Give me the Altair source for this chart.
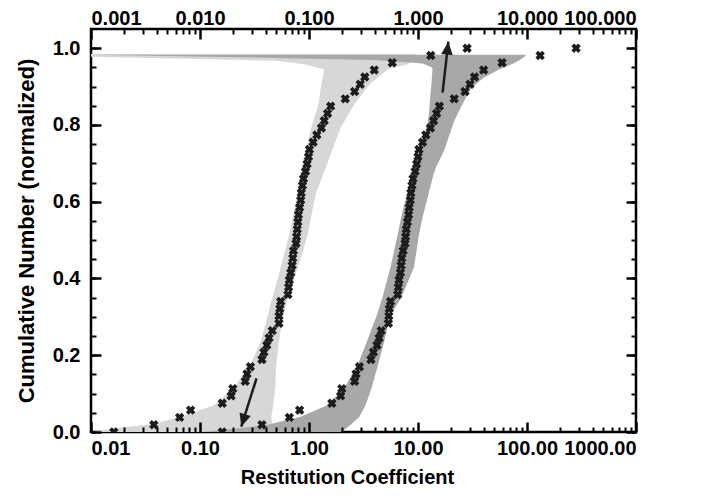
import altair as alt
import pandas as pd

# ---------------- data ----------------
cdf_y = [0.000, 0.019, 0.038, 0.057, 0.075, 0.094, 0.113, 0.132, 0.151, 0.170,
         0.189, 0.208, 0.226, 0.245, 0.264, 0.283, 0.302, 0.321, 0.340, 0.358,
         0.377, 0.396, 0.415, 0.434, 0.453, 0.472, 0.491, 0.509, 0.528, 0.547,
         0.566, 0.585, 0.604, 0.623, 0.642, 0.660, 0.679, 0.698, 0.717, 0.736,
         0.755, 0.774, 0.792, 0.811, 0.830, 0.849, 0.868, 0.887, 0.906, 0.925,
         0.943, 0.962, 0.981, 1.000]

left_x = [0.0162, 0.0377, 0.065, 0.082, 0.16, 0.193, 0.20, 0.26, 0.27, 0.29,
          0.37, 0.386, 0.41, 0.43, 0.46, 0.53, 0.53, 0.54, 0.55, 0.64,
          0.65, 0.66, 0.68, 0.70, 0.71, 0.72, 0.76, 0.77, 0.78, 0.79,
          0.80, 0.82, 0.84, 0.85, 0.87, 0.89, 0.93, 0.96, 0.99, 1.01,
          1.09, 1.18, 1.30, 1.38, 1.48, 1.58, 2.15, 2.62, 2.95, 3.25,
          3.97, 5.8, 13.1, 28.2]

right_x = [0.16, 0.37, 0.66, 0.82, 1.62, 1.95, 2.0, 2.62, 2.7, 2.9,
           3.7, 3.9, 4.2, 4.4, 4.6, 5.35, 5.4, 5.45, 5.6, 6.5,
           6.6, 6.7, 6.9, 7.0, 7.1, 7.3, 7.6, 7.7, 7.8, 8.0,
           8.2, 8.3, 8.5, 8.6, 8.8, 9.0, 9.4, 9.7, 10.0, 10.2,
           11.0, 11.8, 13.0, 13.9, 14.8, 15.7, 21.5, 27.0, 30.0, 33.0,
           40.0, 59.0, 132.0, 282.0]

light_y = [0.000, 0.010, 0.020, 0.040, 0.070, 0.115, 0.175, 0.236, 0.305, 0.340,
           0.384, 0.470, 0.514, 0.619, 0.688, 0.706, 0.793, 0.854, 0.906, 0.945,
           0.958, 0.967, 0.972, 0.978, 0.985]
light_lo = [0.0100, 0.0165, 0.035, 0.068, 0.134, 0.205, 0.29, 0.36, 0.42, 0.45,
            0.50, 0.60, 0.66, 0.78, 0.85, 0.88, 1.05, 1.22, 1.30, 1.38,
            0.9, 0.5, 0.1, 0.0100, 0.0100]
light_hi = [0.50, 0.48, 0.46, 0.45, 0.47, 0.49, 0.50, 0.53, 0.58, 0.63,
            0.70, 0.88, 0.97, 1.15, 1.42, 1.50, 1.95, 2.6, 3.6, 5.3,
            8.0, 9.0, 9.5, 9.5, 9.5]

dark_y = [0.000, 0.008, 0.018, 0.040, 0.070, 0.114, 0.175, 0.236, 0.305, 0.349,
          0.430, 0.514, 0.558, 0.662, 0.688, 0.732, 0.758, 0.810, 0.828, 0.880,
          0.897, 0.923, 0.945, 0.950, 0.960, 0.969, 0.974, 0.978, 0.983]
dark_lo = [0.10, 0.20, 0.41, 0.84, 1.47, 2.1, 2.8, 3.4, 4.2, 4.7,
           5.6, 6.5, 7.0, 8.6, 9.4, 10.6, 11.2, 12.3, 12.6, 13.0,
           13.2, 13.4, 13.6, 13.5, 11.0, 4.0, 0.6, 0.12, 0.0100]
dark_hi = [1.94, 2.15, 2.4, 2.9, 3.3, 3.75, 4.3, 4.9, 5.6, 7.0,
           9.2, 10.2, 11.0, 13.6, 14.5, 17.3, 18.6, 21.5, 23.0, 28.5,
           31.0, 40.0, 56.0, 62.0, 75.0, 86.0, 90.0, 95.0, 98.0]

arrow_x_start = [0.33, 16.8]
arrow_y_start = [0.14, 0.884]
arrow_x_end = [0.239, 19.0]
arrow_y_end = [0.014, 1.017]
arrow_angle = [197.6, 6.4]

x_major = [0.01, 0.1, 1, 10, 100, 1000]
x_bottom_labels = ["0.01", "0.10", "1.00", "10.00", "100.00", "1000.00"]
x_top_labels = ["0.001", "0.010", "0.100", "1.000", "10.000", "100.000"]
x_minor = [m * d for d in [0.01, 0.1, 1, 10, 100] for m in range(2, 10)]
y_major = [0.0, 0.2, 0.4, 0.6, 0.8, 1.0]
y_minor = [round(0.05 * i, 2) for i in range(21)]

# ---------------- tables ----------------
pts_left = pd.DataFrame({"x": left_x, "y": cdf_y})
pts_right = pd.DataFrame({"x": right_x, "y": cdf_y})
light_df = pd.DataFrame({"y": light_y, "lo": light_lo, "hi": light_hi})
dark_df = pd.DataFrame({"y": dark_y, "lo": dark_lo, "hi": dark_hi})
arrows = pd.DataFrame({"x": arrow_x_start, "y": arrow_y_start,
                       "x2": arrow_x_end, "y2": arrow_y_end, "ang": arrow_angle})

FONT = "Liberation Sans"
xs = alt.Scale(type="log", domain=[0.01, 1000], nice=False)
ys = alt.Scale(domain=[0, 1.05], nice=False, zero=False)

common = dict(labelFont=FONT, labelFontSize=20, labelFontWeight="bold", labelColor="black",
              tickColor="black", titleFont=FONT, titleFontSize=20, titleFontWeight="bold",
              titleColor="black", grid=False, domain=False, zindex=2)


def lab_expr(labels):
    arr = "[" + ",".join("'%s'" % s for s in labels) + "]"
    return arr + "[round(log(datum.value)/LN10)+2]"


ax_bottom = alt.Axis(orient="bottom", values=x_major, labelExpr=lab_expr(x_bottom_labels),
                     tickSize=10, tickWidth=2.5, offset=-10, labelPadding=6,
                     title="Restitution Coefficient", titlePadding=9, titleX=256,
                     **common)
ax_bottom_minor = alt.Axis(orient="bottom", values=x_minor, labels=False, tickSize=5,
                           tickWidth=2, offset=-5, title=None, **common)
ax_top = alt.Axis(orient="top", values=x_major, labelExpr=lab_expr(x_top_labels),
                  tickSize=10, tickWidth=2.5, offset=-10, labelPadding=1, title=None, **common)
ax_top_minor = alt.Axis(orient="top", values=x_minor, labels=False, tickSize=5,
                        tickWidth=2, offset=-5, title=None, **common)
left_common = dict(common)
left_common["titleFontSize"] = 22
ax_left = alt.Axis(orient="left", values=y_major, format=".1f", tickSize=10, tickWidth=2.5,
                   offset=-10, labelPadding=11, title="Cumulative Number (normalized)",
                   titlePadding=14, **left_common)
ax_left_minor = alt.Axis(orient="left", values=y_minor, labels=False, tickSize=5,
                         tickWidth=2, offset=-5, title=None, **common)
ax_right = alt.Axis(orient="right", values=y_major, labels=False, tickSize=10, tickWidth=2.5,
                    offset=-10, title=None, **common)
ax_right_minor = alt.Axis(orient="right", values=y_minor, labels=False, tickSize=5,
                          tickWidth=2, offset=-5, title=None, **common)

light = alt.Chart(light_df).mark_area(orient="horizontal", color="#d7d7d7", clip=True).encode(
    y=alt.Y("y:Q", scale=ys, axis=ax_left),
    x=alt.X("lo:Q", scale=xs, axis=ax_bottom),
    x2="hi:Q",
)
dark = alt.Chart(dark_df).mark_area(orient="horizontal", color="#a8a8a8", clip=True).encode(
    y=alt.Y("y:Q", scale=ys, axis=ax_left_minor),
    x=alt.X("lo:Q", scale=xs, axis=ax_bottom_minor),
    x2="hi:Q",
)
cross = dict(shape="cross", angle=45, filled=True, size=90, color="#1c1c1c", opacity=1, clip=True)
p_left = alt.Chart(pts_left).mark_point(**cross).encode(
    x=alt.X("x:Q", scale=xs, axis=ax_top),
    y=alt.Y("y:Q", scale=ys, axis=ax_right),
)
p_right = alt.Chart(pts_right).mark_point(**cross).encode(
    x=alt.X("x:Q", scale=xs, axis=ax_top_minor),
    y=alt.Y("y:Q", scale=ys, axis=ax_right_minor),
)
shafts = alt.Chart(arrows).mark_rule(color="#1c1c1c", strokeWidth=2.5).encode(
    x=alt.X("x:Q", scale=xs, axis=None),
    y=alt.Y("y:Q", scale=ys, axis=None),
    x2="x2:Q",
    y2="y2:Q",
)
heads = alt.Chart(arrows).mark_point(shape="M0,0L0.9,2L-0.9,2Z", filled=True, size=169,
                                     color="#1c1c1c", opacity=1).encode(
    x=alt.X("x2:Q", scale=xs, axis=None),
    y=alt.Y("y2:Q", scale=ys, axis=None),
    angle=alt.Angle("ang:Q", scale=None),
)

chart = (
    alt.layer(light, dark, p_left, p_right, shafts, heads)
    .resolve_axis(x="independent", y="independent")
    .properties(width=545, height=403,
                padding={"left": 7, "top": 0, "right": 5, "bottom": 5})
    .configure_view(stroke="black", strokeWidth=2.5)
)

chart.save("out.html", embed_options={"renderer": "svg", "actions": False})
